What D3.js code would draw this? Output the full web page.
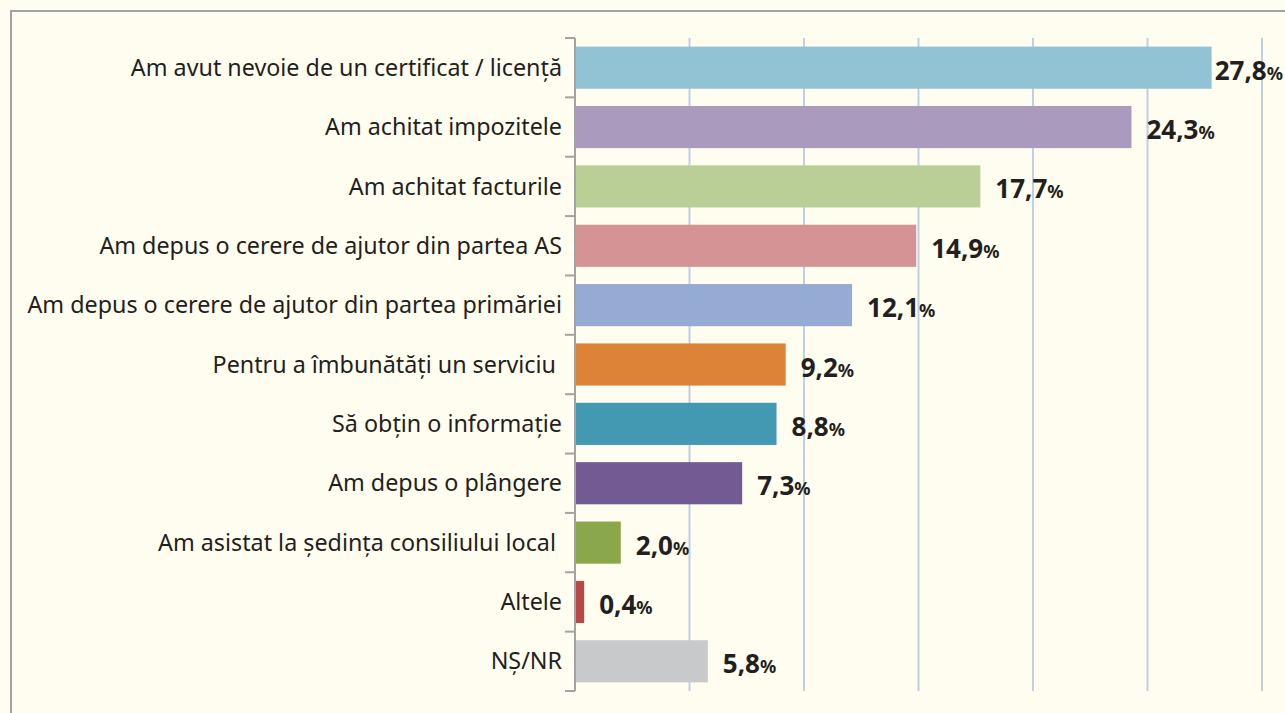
<!DOCTYPE html>
<html>
<head>
<meta charset="utf-8">
<script src="https://cdnjs.cloudflare.com/ajax/libs/d3/7.8.5/d3.min.js"></script>
<style>
  body { margin: 0; background: #fffdf0; }
  svg { display: block; font-family: "Noto Sans", "Open Sans", sans-serif; }
</style>
</head>
<body>
<script>
// answers, top to bottom
var categories = [
  "Am avut nevoie de un certificat / licență",
  "Am achitat impozitele",
  "Am achitat facturile",
  "Am depus o cerere de ajutor din partea AS",
  "Am depus o cerere de ajutor din partea primăriei",
  "Pentru a îmbunătăți un serviciu ",
  "Să obțin o informație",
  "Am depus o plângere",
  "Am asistat la ședința consiliului local ",
  "Altele",
  "NȘ/NR"
];
var values = [27.8, 24.3, 17.7, 14.9, 12.1, 9.2, 8.8, 7.3, 2.0, 0.4, 5.8];
var colors = ["#92c3d5", "#aa9bbe", "#b9cf96", "#d49394", "#95abd3", "#dd8337",
              "#4299b1", "#735a93", "#8aa84b", "#b84845", "#c8c9cb"];
var xTicks = [5, 10, 15, 20, 25, 30];

var W = 1285, H = 713;
var plotLeft = 575, plotRight = 1262, plotTop = 38, plotBottom = 691;

var svg = d3.select("body").append("svg")
    .attr("width", W)
    .attr("height", H);

svg.append("rect").attr("width", W).attr("height", H).attr("fill", "#fffdf0");

// frame (top + left only, rest is cut off)
svg.append("path")
    .attr("d", "M11," + H + "V11H" + W)
    .attr("fill", "none")
    .attr("stroke", "#a3a3a3")
    .attr("stroke-width", 2);

var x = d3.scaleLinear().domain([0, 30]).range([plotLeft, plotRight]);
var y = d3.scaleBand().domain(categories).range([plotTop, plotBottom]).paddingInner(0.29).paddingOuter(0.145);

// gridlines
svg.append("g").selectAll("line")
    .data(xTicks)
  .enter().append("line")
    .attr("x1", function(d) { return x(d); })
    .attr("x2", function(d) { return x(d); })
    .attr("y1", plotTop)
    .attr("y2", plotBottom)
    .attr("stroke", "#bfd0e6")
    .attr("stroke-width", 2);

// bars
svg.append("g").selectAll("rect")
    .data(values)
  .enter().append("rect")
    .attr("x", x(0))
    .attr("y", function(d, i) { return y(categories[i]); })
    .attr("width", function(d) { return x(d) - x(0); })
    .attr("height", y.bandwidth())
    .attr("fill", function(d, i) { return colors[i]; });

// y axis with ticks on band boundaries
var step = y.step();
var bounds = d3.range(categories.length + 1).map(function(i) { return plotTop + i * step; });
var ax = svg.append("g").attr("stroke", "#a3a3a3").attr("stroke-width", 2);
ax.append("line").attr("x1", plotLeft).attr("x2", plotLeft).attr("y1", plotTop).attr("y2", plotBottom);
ax.selectAll(".tk")
    .data(bounds)
  .enter().append("line")
    .attr("class", "tk")
    .attr("x1", plotLeft - 10).attr("x2", plotLeft)
    .attr("y1", function(d) { return d; })
    .attr("y2", function(d) { return d; });

// category labels
svg.append("g").selectAll("text")
    .data(categories)
  .enter().append("text")
    .attr("x", 562)
    .attr("y", function(d) { return y(d) + y.bandwidth() / 2; })
    .attr("dy", "0.35em")
    .attr("text-anchor", "end")
    .style("white-space", "pre")
    .attr("font-size", 23.3)
    .attr("fill", "#231f20")
    .text(function(d) { return d; });

// value labels
var vl = svg.append("g").selectAll("text")
    .data(values)
  .enter().append("text")
    .attr("y", function(d, i) { return y(categories[i]) + y.bandwidth() / 2 + 12; })
    .attr("font-weight", "bold")
    .attr("fill", "#231f20");
vl.append("tspan")
    .attr("font-size", 26)
    .text(function(d) { return d.toFixed(1).replace(".", ","); });
vl.append("tspan")
    .attr("font-size", 18)
    .text("%");
vl.attr("x", function(d) {
  var w = this.getComputedTextLength();
  return Math.min(x(d) + 15, W - w - 2);
});
</script>
</body>
</html>
